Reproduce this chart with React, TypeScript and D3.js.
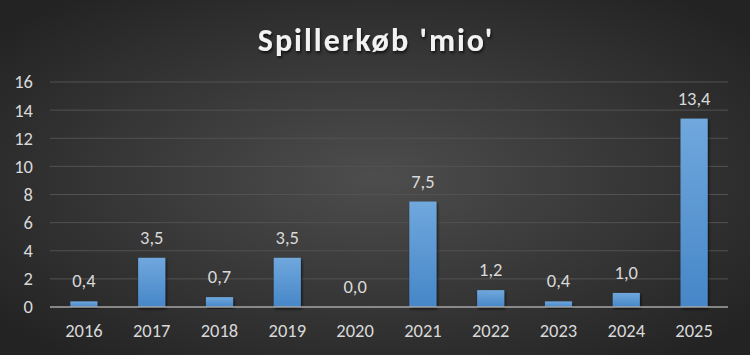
import { useEffect, useRef } from 'react'
import * as d3 from 'd3'

const years = ['2016', '2017', '2018', '2019', '2020', '2021', '2022', '2023', '2024', '2025']
const values = [0.4, 3.5, 0.7, 3.5, 0.0, 7.5, 1.2, 0.4, 1.0, 13.4]
const yTicks = [0, 2, 4, 6, 8, 10, 12, 14, 16]

const width = 750
const height = 355

export default function App() {
  const svgRef = useRef<SVGSVGElement>(null)

  useEffect(() => {
    if (!svgRef.current) return
    const svg = d3.select(svgRef.current)
    svg.selectAll('*').remove()

    const defs = svg.append('defs')
    const bg = defs.append('radialGradient').attr('id', 'bg')
      .attr('cx', '50%').attr('cy', '50%').attr('r', '65%')
    bg.append('stop').attr('offset', '0%').attr('stop-color', '#4d4d4d')
    bg.append('stop').attr('offset', '100%').attr('stop-color', '#232323')

    const barGrad = defs.append('linearGradient').attr('id', 'bar')
      .attr('x1', 0).attr('y1', 0).attr('x2', 0).attr('y2', 1)
    barGrad.append('stop').attr('offset', '0%').attr('stop-color', '#70a8dd')
    barGrad.append('stop').attr('offset', '100%').attr('stop-color', '#4686c8')

    const shadow = defs.append('filter').attr('id', 'shadow')
      .attr('x', '-20%').attr('y', '-20%').attr('width', '140%').attr('height', '140%')
    shadow.append('feDropShadow').attr('dx', 1).attr('dy', 2).attr('stdDeviation', 1.5)
      .attr('flood-color', '#000').attr('flood-opacity', 0.7)

    svg.append('rect').attr('width', width).attr('height', height).attr('fill', 'url(#bg)')

    const font = 'Calibri, Carlito, "Open Sans", sans-serif'

    svg.append('text')
      .attr('x', 376).attr('y', 51)
      .attr('text-anchor', 'middle')
      .attr('fill', '#f2f2f2')
      .attr('font-family', font)
      .attr('font-size', 32)
      .attr('font-weight', 700)
      .attr('letter-spacing', 2)
      .attr('filter', 'url(#shadow)')
      .text("Spillerkøb 'mio'")

    const x = d3.scaleBand().domain(years).range([50, 728]).paddingInner(0.6).paddingOuter(0.3)
    const y = d3.scaleLinear().domain([0, 16]).range([307, 82])

    const g = svg.append('g')

    g.selectAll('line.grid').data(yTicks.filter(t => t > 0)).join('line')
      .attr('x1', 50).attr('x2', 728)
      .attr('y1', d => y(d)).attr('y2', d => y(d))
      .attr('stroke', '#525252').attr('stroke-width', 1)

    g.selectAll('text.tick').data(yTicks).join('text')
      .attr('x', 33).attr('y', d => y(d)).attr('dy', '0.35em')
      .attr('text-anchor', 'end')
      .attr('fill', '#d9d9d9')
      .attr('font-family', font).attr('font-size', 18.5)
      .text(d => d)

    g.selectAll('rect.bar').data(values).join('rect')
      .attr('x', (d, i) => x(years[i])!)
      .attr('width', x.bandwidth())
      .attr('y', d => y(d))
      .attr('height', d => y(0) - y(d))
      .attr('fill', 'url(#bar)')
      .attr('filter', 'url(#shadow)')

    g.append('line')
      .attr('x1', 50).attr('x2', 728)
      .attr('y1', y(0)).attr('y2', y(0))
      .attr('stroke', '#a6a6a6').attr('stroke-width', 1.5)

    g.selectAll('text.val').data(values).join('text')
      .attr('x', (d, i) => x(years[i])! + x.bandwidth() / 2)
      .attr('y', d => y(d) - 14)
      .attr('text-anchor', 'middle')
      .attr('fill', '#d9d9d9')
      .attr('font-family', font).attr('font-size', 18.5)
      .text(d => d.toFixed(1).replace('.', ','))

    g.selectAll('text.year').data(years).join('text')
      .attr('x', d => x(d)! + x.bandwidth() / 2)
      .attr('y', 337)
      .attr('text-anchor', 'middle')
      .attr('fill', '#d9d9d9')
      .attr('font-family', font).attr('font-size', 18.5)
      .text(d => d)
  }, [])

  return (
    <svg
      ref={svgRef}
      width={width}
      height={height}
      style={{ position: 'absolute', left: 0, top: 0, display: 'block' }}
    />
  )
}
